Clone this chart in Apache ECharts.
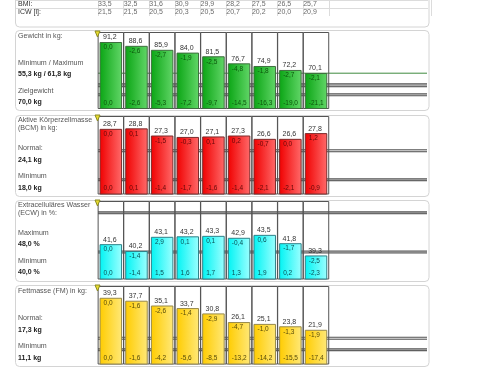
<!DOCTYPE html>
<html><head><meta charset="utf-8">
<style>html,body{margin:0;padding:0;background:#fff}#c{width:480px;height:369px}</style>
<script src="https://cdn.jsdelivr.net/npm/echarts@6/dist/echarts.min.js"></script>
</head><body><div id="c"></div>
<script>
const bmi=[33.5,32.5,31.6,30.9,29.9,28.2,27.5,26.5,25.7];
const icw=[21.5,21.5,20.5,20.3,20.5,20.7,20.2,20.0,20.9];
const tableRows=['BMI:','ICW [l]:'];
const weight=[91.2,88.6,85.9,84.0,81.5,76.7,74.9,72.2,70.1];
const weightDelta=[0.0,-2.6,-2.7,-1.9,-2.5,-4.8,-1.8,-2.7,-2.1];
const weightTotal=[0.0,-2.6,-5.3,-7.2,-9.7,-14.5,-16.3,-19.0,-21.1];
const bcm=[28.7,28.8,27.3,27.0,27.1,27.3,26.6,26.6,27.8];
const bcmDelta=[0.0,0.1,-1.5,-0.3,0.1,0.2,-0.7,0.0,1.2];
const bcmTotal=[0.0,0.1,-1.4,-1.7,-1.6,-1.4,-2.1,-2.1,-0.9];
const ecw=[41.6,40.2,43.1,43.2,43.3,42.9,43.5,41.8,39.3];
const ecwDelta=[0.0,-1.4,2.9,0.1,0.1,-0.4,0.6,-1.7,-2.5];
const ecwTotal=[0.0,-1.4,1.5,1.6,1.7,1.3,1.9,0.2,-2.3];
const fm=[39.3,37.7,35.1,33.7,30.8,26.1,25.1,23.8,21.9];
const fmDelta=[0.0,-1.6,-2.6,-1.4,-2.9,-4.7,-1.0,-1.3,-1.9];
const fmTotal=[0.0,-1.6,-4.2,-5.6,-8.5,-13.2,-14.2,-15.5,-17.4];
const weightRefs=[61.8,55.3];
const weightGoal=[70.0];
const bcmRefs=[24.1,18.0];
const ecwRefs=[48.0,40.0];
const fmRefs=[17.3,11.1];

const FONT='"Liberation Sans",Arial,sans-serif';
const fmt=v=>v.toFixed(1).replace('.',',');
const cats=bmi.map((_,i)=>String(i)).concat(['a','b','c','d']);
const BAND=25.65, LEFT=98, W=BAND*13, REF_END=329/W;

const panels=[
 {top:32,h:76.5,min:46,max:98,v:weight,d:weightDelta,t:weightTotal,refs:weightRefs,ring:['#aaaaaa','#c4c4c4'],outer:[4,3],goal:weightGoal,
  c:['#0aa514','#62d668'],b:'#3f6e3f',lab:'#0c560c',box:[30,80]},
 {top:116,h:78,min:15,max:31.4,v:bcm,d:bcmDelta,t:bcmTotal,refs:bcmRefs,ring:['#e0e0e0','#aaaaaa'],outer:[3,3],
  c:['#f00000','#ff6a6a'],b:'#7c2a2a',lab:'#640808',box:[115,81]},
 {top:201,h:78,min:34.5,max:50.4,v:ecw,d:ecwDelta,t:ecwTotal,refs:ecwRefs,ring:['#a0a0a0','#b8b8b8'],outer:[3,3],
  c:['#00f4f4','#9cffff'],b:'#2f8088',lab:'#0a4f55',box:[200,81]},
 {top:286,h:78,min:3.3,max:45.7,v:fm,d:fmDelta,t:fmTotal,refs:fmRefs,ring:['#e8e8e8','#a0a0a0'],outer:[3,3],
  c:['#ffcc00','#ffe878'],b:'#97894a',lab:'#574a08',box:[285,81]}
];

const grid=[{left:LEFT,top:0,width:W,height:16}];
const xAxis=[{type:'category',gridIndex:0,data:cats,axisLine:{show:false},axisTick:{show:false},axisLabel:{show:false},
  splitLine:{show:true,interval:i=>i<=9,lineStyle:{color:'#dcdcdc',width:1}}}];
const yAxis=[{type:'category',gridIndex:0,inverse:true,data:tableRows,axisLine:{show:false},axisTick:{show:false},
  axisLabel:{interval:0,fontFamily:FONT,fontSize:7,color:'#333',margin:80,align:'left'},
  splitLine:{show:false}}];
const series=[];
[bmi,icw].forEach((row,r)=>{
  series.push({type:'scatter',xAxisIndex:0,yAxisIndex:0,symbolSize:0,silent:true,
    data:row.map((v,i)=>[i,r,v]),
    label:{show:true,position:'inside',offset:[-6,0],fontFamily:FONT,fontSize:7,color:'#444',formatter:p=>fmt(p.data[2])}});
});

panels.forEach((p,k)=>{
  const g=k+1, xCat=xAxis.length, xVal=xCat+1, xFrame=xCat+2, y=yAxis.length;
  grid.push({left:LEFT,top:p.top,width:W,height:p.h});
  xAxis.push({type:'category',gridIndex:g,data:cats,show:false});
  xAxis.push({type:'value',gridIndex:g,min:0,max:1,show:false});
  xAxis.push({type:'category',gridIndex:g,data:cats,show:false});
  yAxis.push({type:'value',gridIndex:g,min:p.min,max:p.max,show:false});
  p.refs.forEach((val,i)=>{
    const pts=[[0,val],[REF_END,val]];
    series.push({type:'line',xAxisIndex:xVal,yAxisIndex:y,data:pts,symbol:'none',silent:true,z:1,
      lineStyle:{color:'#555',width:p.outer[i]}});
    series.push({type:'line',xAxisIndex:xVal,yAxisIndex:y,data:pts,symbol:'none',silent:true,z:1,
      lineStyle:{color:p.ring[i],width:p.outer[i]-2}});
  });
  (p.goal||[]).forEach(val=>{
    series.push({type:'line',xAxisIndex:xVal,yAxisIndex:y,data:[[0,val],[REF_END,val]],symbol:'none',silent:true,z:1,
      lineStyle:{color:'#3f8a3f',width:1}});
  });
  // column frames: one outline per column, overlapping slightly so neighbours share a line
  series.push({type:'bar',xAxisIndex:xFrame,yAxisIndex:y,data:p.v.map(()=>p.max),barWidth:26.4,silent:true,z:2,
    itemStyle:{color:'rgba(0,0,0,0)',borderColor:'#555',borderWidth:1}});
  const labelBase={show:true,fontFamily:FONT,fontSize:6.5,distance:2};
  series.push({type:'bar',xAxisIndex:xCat,yAxisIndex:y,data:p.v,barWidth:22.5,barGap:'-100%',silent:true,z:3,
    itemStyle:{color:new echarts.graphic.LinearGradient(0,0,1,0,[{offset:0,color:p.c[0]},{offset:1,color:p.c[1]}]),borderColor:p.b,borderWidth:1},
    label:{...labelBase,fontSize:7,position:'top',distance:1,offset:[-1,0],color:'#333',formatter:o=>fmt(o.value)}});
  series.push({type:'bar',xAxisIndex:xCat,yAxisIndex:y,data:p.v,barWidth:22.5,barGap:'-100%',silent:true,z:4,
    itemStyle:{color:'rgba(0,0,0,0)'},
    label:{...labelBase,position:'insideTopLeft',offset:[2,0],color:p.lab,formatter:o=>fmt(p.d[o.dataIndex])}});
  series.push({type:'bar',xAxisIndex:xCat,yAxisIndex:y,data:p.v,barWidth:22.5,barGap:'-100%',silent:true,z:4,
    itemStyle:{color:'rgba(0,0,0,0)'},
    label:{...labelBase,position:'insideBottomLeft',offset:[2,0],color:p.lab,formatter:o=>fmt(p.t[o.dataIndex])}});
});

const txt=(t,x,y,bold)=>({type:'text',z:10,silent:true,style:{text:t,x:x,y:y,verticalAlign:'middle',
  font:(bold?'bold ':'')+(bold?'7px ':'7.1px ')+FONT,fill:bold?'#222':'#555'}});
const sideText=[
 ['Gewicht in kg:',36],['Minimum / Maximum',63.5],['55,3 kg / 61,8 kg',74.5,1],['Zielgewicht',91.5],['70,0 kg',102.5,1],
 ['Aktive Körperzellmasse',120],['(BCM) in kg:',128.5],['Normal:',148],['24,1 kg',160,1],['Minimum',176],['18,0 kg',188,1],
 ['Extracelluläres Wasser',205],['(ECW) in %:',213.5],['Maximum',233.5],['48,0 %',244.5,1],['Minimum',261.5],['40,0 %',272.5,1],
 ['Fettmasse (FM) in kg:',291],['Normal:',318],['17,3 kg',330,1],['Minimum',346],['11,1 kg',358,1]
];
const graphic=[
 {type:'rect',z:-1,silent:true,shape:{x:15.5,y:-8,width:413.5,height:35,r:4},style:{fill:'#fff',stroke:'#d4d4d4',lineWidth:1}},
 {type:'line',z:0,silent:true,shape:{x1:16,y1:8.5,x2:428,y2:8.5},style:{stroke:'#dcdcdc',lineWidth:1}},
 {type:'line',z:0,silent:true,shape:{x1:16,y1:0.5,x2:428,y2:0.5},style:{stroke:'#dcdcdc',lineWidth:1}}
];
panels.forEach(p=>graphic.push({type:'rect',z:-1,silent:true,shape:{x:15.5,y:p.box[0]+.5,width:413.5,height:p.box[1],r:4},style:{fill:'#fff',stroke:'#d4d4d4',lineWidth:1}}));
panels.forEach(p=>graphic.push({type:'polygon',z:12,silent:true,shape:{points:[[95,p.top-1],[100,p.top-1],[97.5,p.top+5]]},style:{fill:'#e8dc30',stroke:'#8a8a20',lineWidth:1}}));
sideText.forEach(s=>graphic.push(txt(s[0],18,s[1],s[2])));

const chart=echarts.init(document.getElementById('c'),null,{renderer:'canvas'});
chart.setOption({animation:false,grid,xAxis,yAxis,series,graphic});
</script></body></html>
